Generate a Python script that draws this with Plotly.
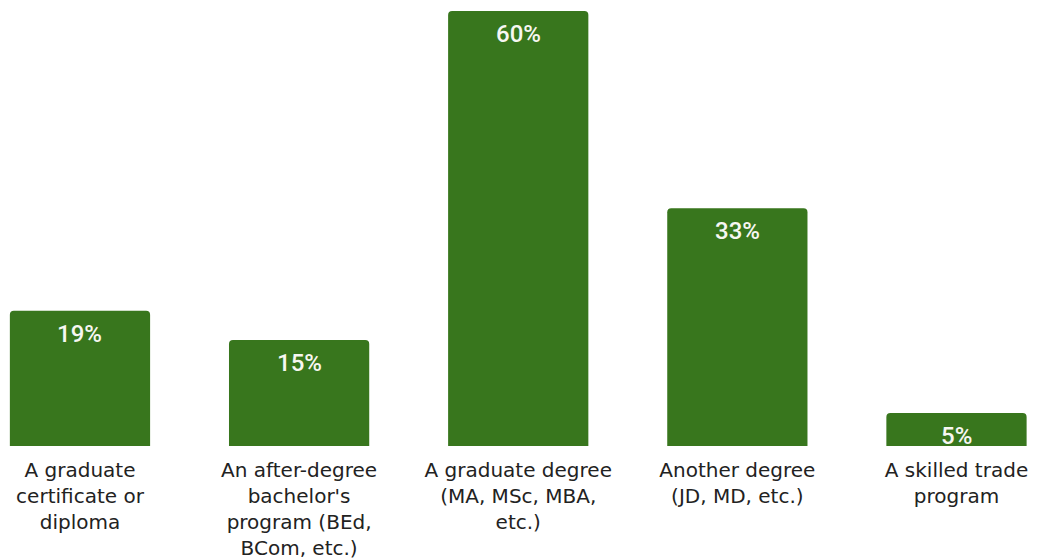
import plotly.graph_objects as go

categories = [
    "A graduate<br>certificate or<br>diploma",
    "An after-degree<br>bachelor's<br>program (BEd,<br>BCom, etc.)",
    "A graduate degree<br>(MA, MSc, MBA,<br>etc.)",
    "Another degree<br>(JD, MD, etc.)",
    "A skilled trade<br>program",
]
values = [19, 15, 60, 33, 5]
labels = ["19%", "15%", "60%", "33%", "5%"]

fig = go.Figure()
fig.add_trace(go.Bar(
    x=categories,
    y=values,
    width=0.64,
    marker=dict(color="#38761d", cornerradius=4, line=dict(width=0)),
    hoverinfo="skip",
))

for c, v, t in zip(categories, values, labels):
    fig.add_annotation(
        x=c, y=v, text=t, showarrow=False,
        yanchor="top", yshift=-7,
        font=dict(family="Roboto", size=24, color="#f7f7f2", weight=500),
    )

fig.update_layout(
    width=1038, height=559,
    margin=dict(l=0, r=0, t=11, b=113),
    paper_bgcolor="#ffffff",
    plot_bgcolor="#ffffff",
    showlegend=False,
    xaxis=dict(
        type="category",
        range=[-0.365, 4.372],
        showgrid=False, zeroline=False, showline=False,
        ticks="",
        ticklabelstandoff=10,
        tickfont=dict(family="DejaVu Sans", size=20, color="#222222"),
        tickangle=0,
    ),
    yaxis=dict(
        range=[0.48, 60],
        visible=False,
        showgrid=False, zeroline=False,
    ),
)

fig.write_html("out.html")
